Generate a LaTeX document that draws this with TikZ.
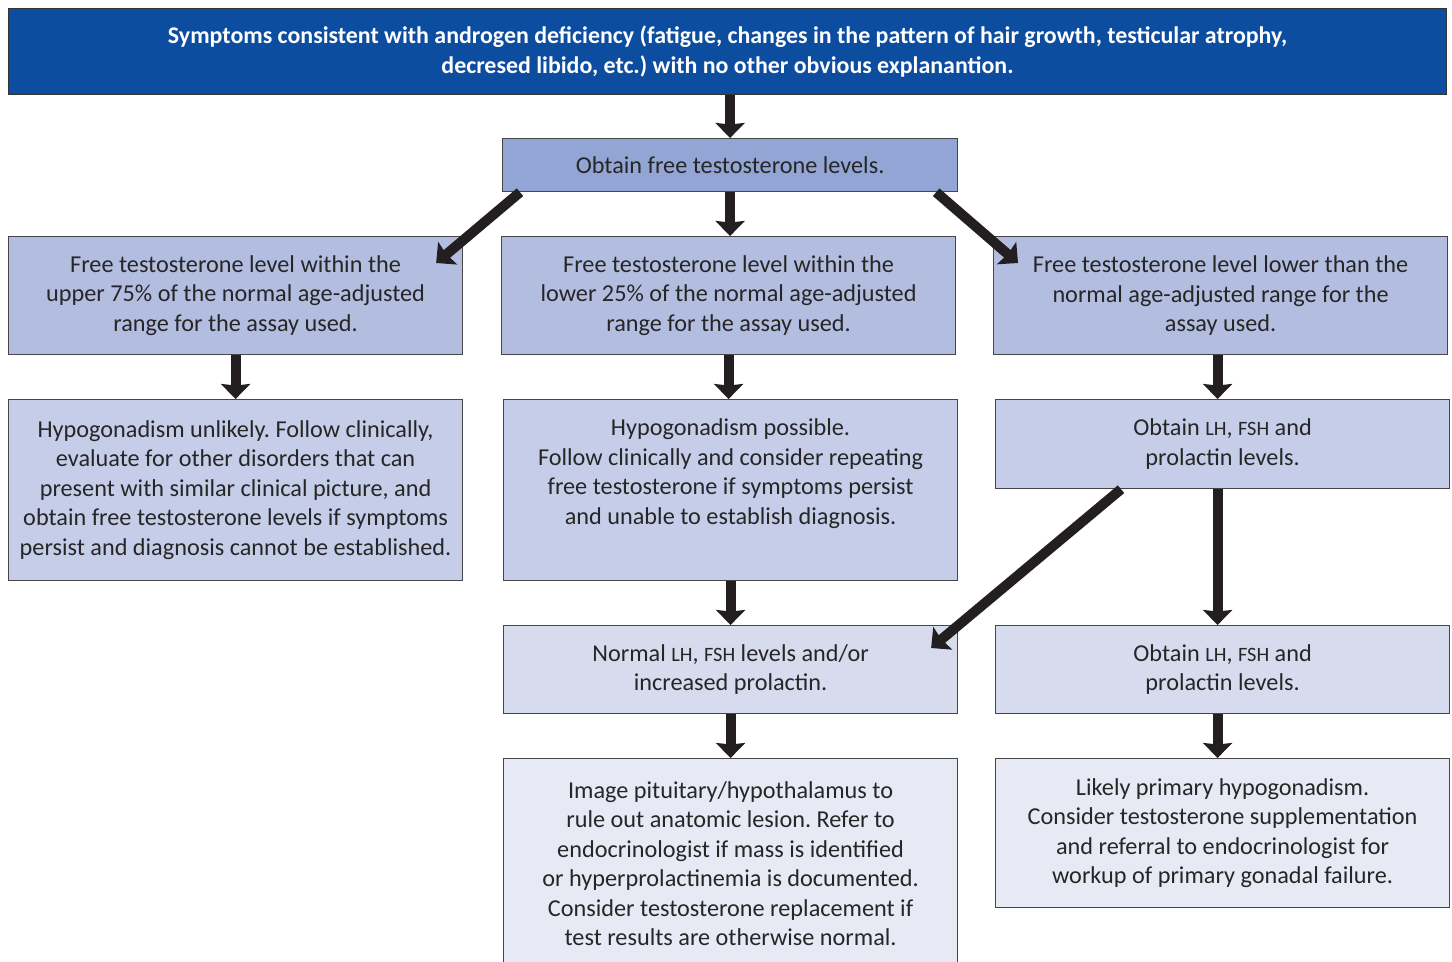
\documentclass[tikz,border=0pt]{standalone}
\usepackage{fontspec}
\setmainfont{Carlito}
\frenchspacing
\usetikzlibrary{arrows.meta,calc}
\definecolor{kopf}{RGB}{13,77,160}
\definecolor{s1}{RGB}{146,165,212}
\definecolor{s2}{RGB}{178,189,224}
\definecolor{s3}{RGB}{197,205,233}
\definecolor{s4}{RGB}{214,219,238}
\definecolor{s5}{RGB}{231,234,245}
\definecolor{rand}{RGB}{70,70,72}
\definecolor{pf}{RGB}{35,31,32}
\newcommand{\ksc}[1]{{\fontsize{11.6pt}{16.8pt}\selectfont #1}}

\begin{document}
\begin{tikzpicture}[
  x=0.02cm, y=-0.02cm,
  font=\fontsize{13.8pt}{16.8pt}\selectfont,
  card/.style={draw=rand, line width=0.7pt, anchor=north west, align=center,
               inner sep=4pt, minimum width=9.08cm, text=black!85},
  flow/.style={-{Stealth[length=0.3cm, width=0.58cm, inset=0.03cm]},
               line width=0.2cm, pf}
]
\useasboundingbox (0,0) rectangle (1452,961);

% ---------- Kopf und erster Schritt ------------------------------
\node[card, fill=kopf, draw=black!80, minimum width=28.76cm, minimum height=1.72cm,
      text=white, font=\fontsize{13.6pt}{16.8pt}\selectfont\bfseries] (sympt) at (8,8)
  {Symptoms consistent with androgen deficiency (fatigue, changes in the pattern of hair growth, testicular atrophy,\\
   decresed libido, etc.) with no other obvious explanantion.};

\node[card, fill=s1, minimum width=9.1cm, minimum height=1.06cm] (obtain) at (502,138)
  {Obtain free testosterone levels.};

% ---------- Reihe 2: drei Bereiche -------------------------------
\node[card, fill=s2, minimum height=2.36cm] (upper) at (8,236)
  {Free testosterone level within the\\ upper 75\% of the normal age-adjusted\\ range for the assay used.};
\node[card, fill=s2, minimum height=2.36cm] (lower) at (501,236)
  {Free testosterone level within the\\ lower 25\% of the normal age-adjusted\\ range for the assay used.};
\node[card, fill=s2, minimum height=2.36cm] (below) at (993,236)
  {Free testosterone level lower than the\\ normal age-adjusted range for the\\ assay used.};

% ---------- Reihe 3 ----------------------------------------------
\node[card, fill=s3, minimum height=3.62cm] (unlikely) at (8,399)
  {Hypogonadism unlikely. Follow clinically,\\ evaluate for other disorders that can\\
   present with similar clinical picture, and\\ obtain free testosterone levels if symptoms\\
   persist and diagnosis cannot be established.};
\node[card, fill=s3, minimum height=3.62cm] (possible) at (503,399)
  {\parbox[c][81pt][t]{8.7cm}{\centering Hypogonadism possible.\\
   Follow clinically and consider repeating\\ free testosterone if symptoms persist\\
   and unable to establish diagnosis.}};
\node[card, fill=s3, minimum height=1.78cm] (lhfsh) at (995,399)
  {Obtain \ksc{LH}, \ksc{FSH} and\\ prolactin levels.};

% ---------- Reihe 4 ----------------------------------------------
\node[card, fill=s4, minimum height=1.76cm] (normal) at (503,625)
  {Normal \ksc{LH}, \ksc{FSH} levels and/or\\ increased prolactin.};
\node[card, fill=s4, minimum height=1.76cm] (lhfshb) at (995,625)
  {Obtain \ksc{LH}, \ksc{FSH} and\\ prolactin levels.};

% ---------- Reihe 5 ----------------------------------------------
\node[card, fill=s5, minimum height=4.2cm] (image) at (503,758)
  {Image pituitary/hypothalamus to\\ rule out anatomic lesion. Refer to\\
   endocrinologist if mass is identified\\ or hyperprolactinemia is documented.\\
   Consider testosterone replacement if\\ test results are otherwise normal.};
\node[card, fill=s5, minimum height=2.98cm] (primary) at (995,758)
  {Likely primary hypogonadism.\\ Consider testosterone supplementation\\
   and referral to endocrinologist for\\ workup of primary gonadal failure.};

% ---------- Pfeile -----------------------------------------------
\coordinate (la) at ($(obtain.south west)+(18,0)$);
\coordinate (le) at ($(upper.north east)+(-27,27)$);
\coordinate (ra) at ($(obtain.south east)+(-22,0)$);
\coordinate (re) at ($(below.north west)+(25,27)$);
\coordinate (da) at ($(lhfsh.south west)+(126,0)$);
\coordinate (de) at ($(normal.north east)+(-27,23)$);
\coordinate (rs) at ($(lhfsh.south)+(-5,0)$);

\draw[flow] (sympt.south -| obtain.north) -- (obtain.north);
\draw[flow] (obtain.south) -- (obtain.south |- lower.north);
\draw[flow] (la) -- (le);
\draw[flow] (ra) -- (re);

\draw[flow] (upper.south) -- (upper.south |- unlikely.north);
\draw[flow] (lower.south) -- (lower.south |- possible.north);
\draw[flow] (below.south -| rs) -- (rs |- lhfsh.north);

\draw[flow] (possible.south) -- (possible.south |- normal.north);
\draw[flow] (rs) -- (rs |- lhfshb.north);
\draw[flow] (da) -- (de);

\draw[flow] (normal.south) -- (normal.south |- image.north);
\draw[flow] (lhfshb.south -| rs) -- (rs |- primary.north);

\end{tikzpicture}
\end{document}
